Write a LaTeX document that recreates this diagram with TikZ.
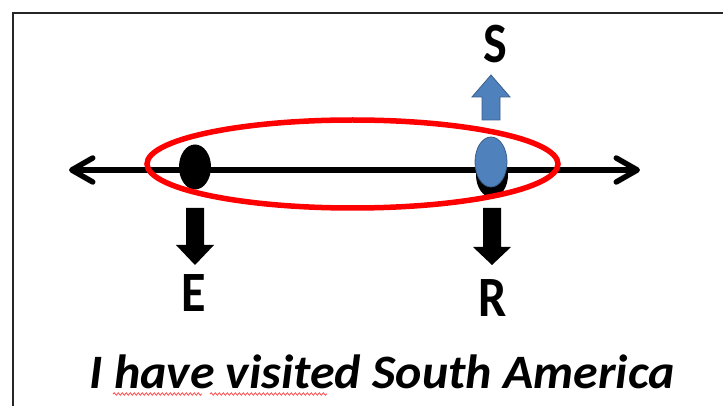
\documentclass[tikz,border=0pt]{standalone}
\usepackage{fontspec}
\setmainfont{Carlito}
\usetikzlibrary{arrows.meta,shapes.geometric,decorations.pathmorphing}
\definecolor{officeblue}{HTML}{4F81BD}
\definecolor{blueedge}{HTML}{385D8A}
\definecolor{markred}{HTML}{FF0000}
\tikzset{
  frameline/.style={line width=2pt, draw=black!85},
  timeline/.style={line width=5.5pt, {Straight Barb[length=21pt,width=24pt,round]}-{Straight Barb[length=21pt,width=24pt,round]}},
  dotblack/.style={ellipse, fill=black, minimum width=32pt, minimum height=45pt, inner sep=0pt},
  dotblue/.style={ellipse, fill=officeblue, draw=blueedge, line width=0.8pt, minimum width=32pt, minimum height=50pt, inner sep=0pt},
  ring/.style={ellipse, draw=markred, line width=5.5pt, minimum width=411pt, minimum height=88pt, inner sep=0pt},
  letter/.style={font=\fontsize{57}{57}\selectfont\bfseries, anchor=base, inner sep=0pt, xscale=0.88},
  sentence/.style={font=\fontsize{48}{48}\selectfont\bfseries\itshape, anchor=base, inner sep=0pt, xscale=1.04},
  squiggle/.style={draw=markred!70, line width=0.8pt, decorate, decoration={snake, amplitude=1.2pt, segment length=4pt}},
}
\newcommand{\blockarrowdown}[4]{% #1 x, #2 shaft end, #3 head base, #4 tip
  (#1-9,#2) -- (#1+9,#2) -- (#1+9,#3) -- (#1+19,#3) -- (#1,#4) -- (#1-19,#3) -- (#1-9,#3) -- cycle}
\begin{document}
\begin{tikzpicture}[x=1pt,y=-1pt]
\useasboundingbox (0,0) rectangle (723,406);
\clip (0,0) rectangle (723,406);
% frame
\draw[frameline] (12.5,420) -- (12.5,13.5) -- (740,13.5);
% timeline
\coordinate (tl) at (69,170);
\coordinate (tr) at (640,170);
\draw[timeline] (tl) -- (tr);
% points
\node[dotblack] (E) at (195,167) {};
\node[dotblack] (R) at (492,175) {};
\node[dotblue] (S) at (491,162) {};
% block arrows
\fill[black] \blockarrowdown{195}{208}{245}{265};
\fill[black] \blockarrowdown{492}{208}{247}{265};
\filldraw[fill=officeblue, draw=blueedge, line width=0.8pt] \blockarrowdown{491}{120}{97}{75};
% red ring
\node[ring] (ring) at (352.5,164) {};
% letters
\node[letter] (Slab) at (495,63) {S};
\node[letter] (Elab) at (194,311) {E};
\node[letter] (Rlab) at (493,316) {R};
% sentence
\node[sentence] (txt) at (382,388) {I have visited South America};
\draw[squiggle] (113,394) -- (202,394);
\draw[squiggle] (210,394) -- (327,394);
\end{tikzpicture}
\end{document}
